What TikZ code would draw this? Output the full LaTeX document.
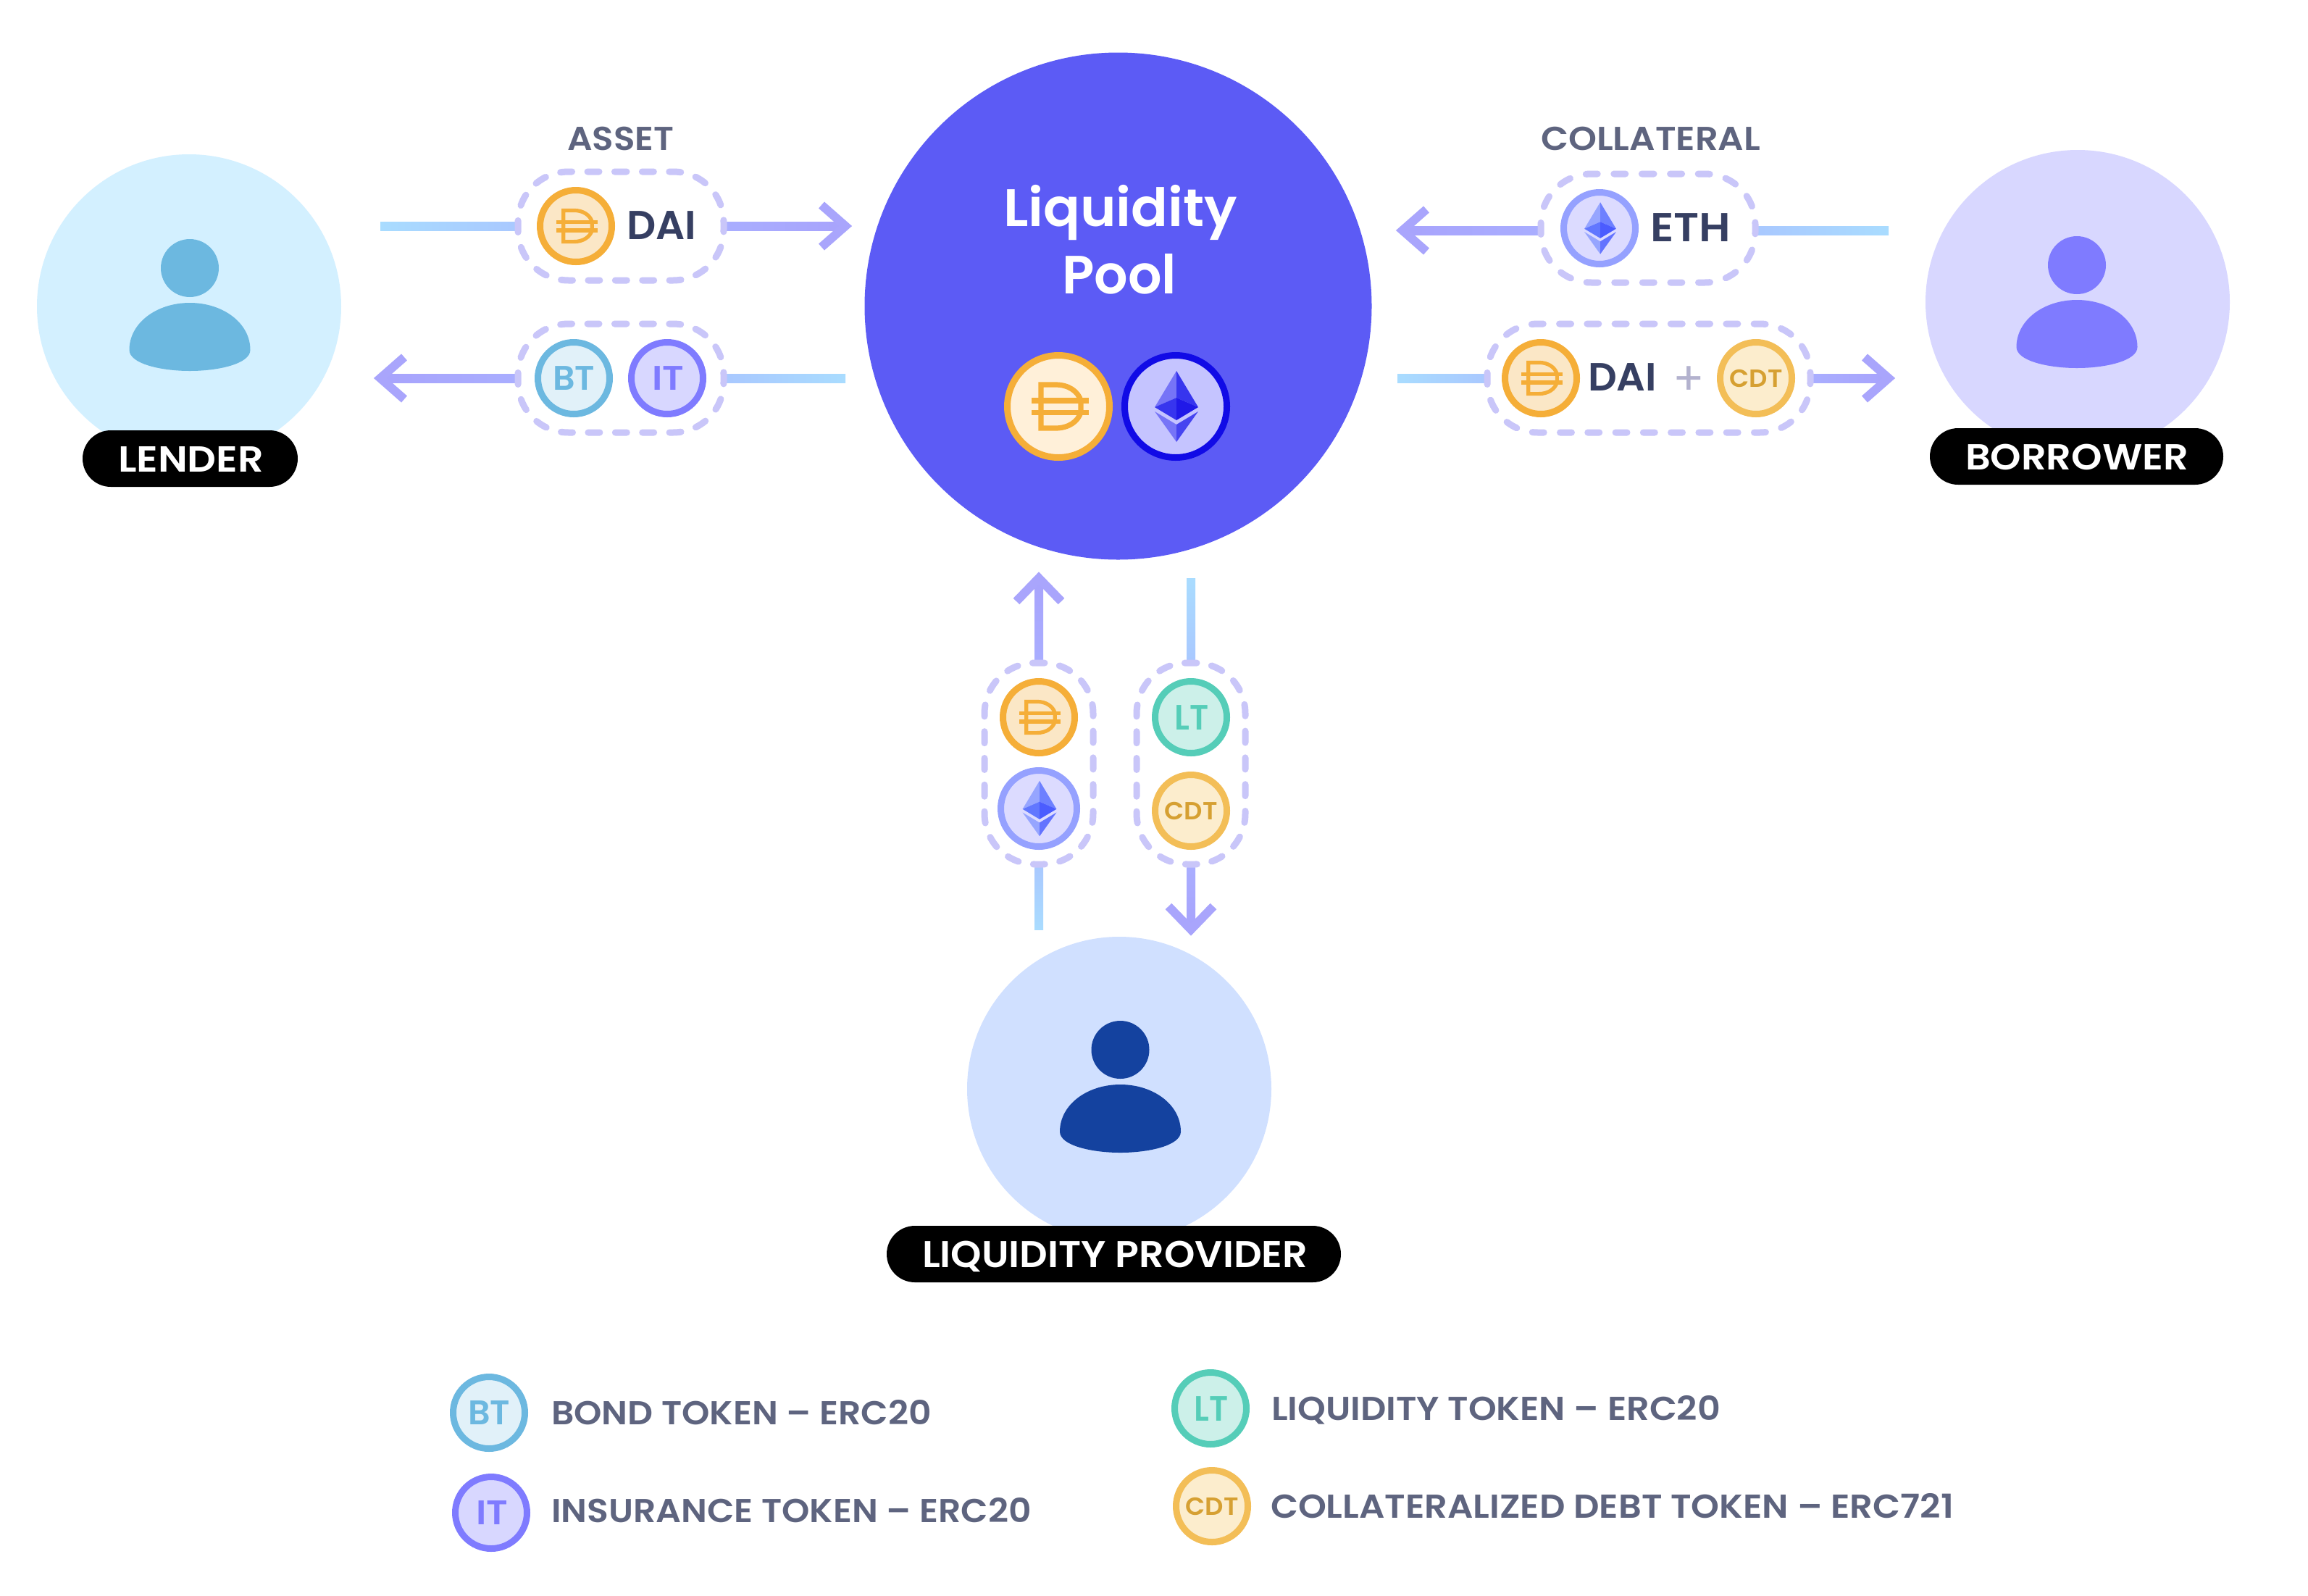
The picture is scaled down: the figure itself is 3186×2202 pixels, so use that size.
\documentclass[tikz,border=0pt]{standalone}
\usepackage{fontspec}
\usepackage{graphicx}
\usetikzlibrary{calc}
\newfontfamily\pops{Poppins SemiBold}
\newfontfamily\popr{Poppins}
\definecolor{poolc}{HTML}{5C5BF5}
\definecolor{lendbg}{HTML}{D3F0FF}
\definecolor{lendfg}{HTML}{6CB8E0}
\definecolor{borrbg}{HTML}{D8D7FF}
\definecolor{borrfg}{HTML}{7F7BFF}
\definecolor{lpbg}{HTML}{D0E0FF}
\definecolor{lpfg}{HTML}{14429F}
\definecolor{greytx}{HTML}{5E647F}
\definecolor{darktx}{HTML}{363F62}
\definecolor{dashc}{HTML}{C9C6F9}
\definecolor{lineA}{HTML}{A9DCFF}
\definecolor{lineB}{HTML}{A9C8FF}
\definecolor{lineC}{HTML}{A9AEFF}
\definecolor{lineD}{HTML}{A8A3FC}
\definecolor{chevc}{HTML}{A9A5FC}
\definecolor{daiR}{HTML}{F5AE38}
\definecolor{daiF}{HTML}{FBE7C6}
\definecolor{daiB}{HTML}{FFF0D9}
\definecolor{btF}{HTML}{E1F1F9}
\definecolor{ltR}{HTML}{55CDB8}
\definecolor{ltF}{HTML}{CCF0E9}
\definecolor{cdtR}{HTML}{F3BE57}
\definecolor{cdtF}{HTML}{FCEDCD}
\definecolor{cdtT}{HTML}{D6A032}
\definecolor{ethR}{HTML}{95A1FF}
\definecolor{ethF}{HTML}{DCDBFF}
\definecolor{ethBR}{HTML}{110BE6}
\definecolor{ethBF}{HTML}{C5C4FF}
\definecolor{plusc}{HTML}{B3B2CE}
\definecolor{bigA}{HTML}{7674F7}
\definecolor{bigB}{HTML}{3735EE}
\definecolor{bigC}{HTML}{3735EE}
\definecolor{bigD}{HTML}{2019E8}
\definecolor{bigE}{HTML}{7674F7}
\definecolor{bigF}{HTML}{4644F0}
\definecolor{smlA}{HTML}{96A5FF}
\definecolor{smlB}{HTML}{6D80FF}
\definecolor{smlC}{HTML}{6177FF}
\definecolor{smlD}{HTML}{4B5CFF}
\definecolor{smlE}{HTML}{96A5FF}
\definecolor{smlF}{HTML}{6373FF}
\tikzset{
  disc/.style={circle,inner sep=0pt,outer sep=0pt,minimum size=#1},
  coinring/.style={circle,draw,line width=4.5pt,inner sep=0pt,outer sep=0pt,minimum size=49.5pt},
  bigcoin/.style={coinring,minimum size=70.5pt},
  pillbox/.style={fill=black,rounded corners=19.5pt,inner sep=0pt,outer sep=0pt},
  boxnode/.style={inner sep=0pt,outer sep=0pt},
  dashedge/.style={draw=dashc,line width=4.5pt,line cap=round},
  chevline/.style={draw=chevc,line width=6pt,miter limit=10,line join=miter},
  txtnode/.style={inner sep=0pt,outer sep=0pt,font=\pops},
  kBT/.style={draw=lendfg,fill=btF},
  kIT/.style={draw=borrfg,fill=borrbg},
  kLT/.style={draw=ltR,fill=ltF},
  kCDT/.style={draw=cdtR,fill=cdtF},
}
\newcommand\fittext[3]{\pgfmathsetmacro\lblfs{#2*0.5/0.7}\pgfmathsetmacro\lblw{#1*0.5}\fontsize{\lblfs pt}{\lblfs pt}\selectfont\resizebox{\lblw pt}{\height}{#3}}
% name, x, baseline, width, cap, colour, text
\newcommand\lab[7]{\node[txtnode,anchor=base west,text=#6] (#1) at (#2,#3) {\fittext{#4}{#5}{#7}};}
\newcommand\tokBT[3]{\node[coinring,kBT] (#1) at (#2,#3) {};\node[txtnode,anchor=base,text=lendfg] (#1t) at ($(#1)+(0,16.5)$) {\fittext{58}{33}{BT}};}
\newcommand\tokIT[3]{\node[coinring,kIT] (#1) at (#2,#3) {};\node[txtnode,anchor=base,text=borrfg] (#1t) at ($(#1)+(1,16.5)$) {\fittext{44}{33}{IT}};}
\newcommand\tokLT[3]{\node[coinring,kLT] (#1) at (#2,#3) {};\node[txtnode,anchor=base,text=ltR] (#1t) at ($(#1)+(1,17)$) {\fittext{47}{34}{LT}};}
\newcommand\tokCDT[3]{\node[coinring,kCDT] (#1) at (#2,#3) {};\node[txtnode,anchor=base,text=cdtT] (#1t) at ($(#1)+(0,12)$) {\fittext{73}{24}{CDT}};}
% D glyph: x y scale
\newcommand\daiglyph[3]{\begin{scope}[shift={(#1,#2)},scale=#3,draw=daiR,line width=3.6pt*#3,miter limit=10]
  \draw (-4,-30) .. controls (14,-30) and (27,-21) .. (31,-8) -- (31,8) .. controls (27,21) and (14,30) .. (-4,30) -- (-24,30) -- (-24,-30) -- cycle;
  \draw (-37,-8) -- (42,-8); \draw (-37,8.2) -- (42,8.2);
\end{scope}}
% ETH glyph: x y scale palette
\newcommand\ethglyph[4]{\begin{scope}[shift={(#1,#2)},scale=#3]
  \fill[#4A] (0,-49) -- (-30,1) -- (0,-12) -- cycle;
  \fill[#4B] (0,-49) -- (30,1) -- (0,-12) -- cycle;
  \fill[#4C] (-30,1) -- (0,-12) -- (0,19) -- cycle;
  \fill[#4D] (30,1) -- (0,-12) -- (0,19) -- cycle;
  \fill[#4E] (-30,7) -- (0,25) -- (0,49) -- cycle;
  \fill[#4F] (30,7) -- (0,25) -- (0,49) -- cycle;
\end{scope}}
\newcommand\daicoin[3]{\node[coinring,draw=daiR,fill=daiF] (#1) at (#2,#3) {};\daiglyph{#2}{#3}{0.72}}
\newcommand\ethcoin[4]{\node[coinring,draw=ethR,fill=ethF,minimum size=#4pt] (#1) at (#2,#3) {};}
% person: name cx bodytop colour
\newcommand\person[4]{\node[disc=40pt,fill=#4] (#1h) at (#2,#3-48) {};
  \begin{scope}[shift={(#2,#3)}]
  \fill[#4] (-83.5,65) .. controls (-83.5,28) and (-46,0) .. (0,0) .. controls (46,0) and (83.5,28) .. (83.5,65) .. controls (83.5,84) and (40,94) .. (0,94) .. controls (-40,94) and (-83.5,84) .. cycle;
  \end{scope}}
% dashed outline round a named box: box, w, h, periods (corner radius 70)
\newcommand\dbox[4]{\pgfmathsetmacro\dbp{(2*(#2-140)+2*(#3-140)+2*pi*70)/#4*0.5}\pgfmathsetmacro\dbo{\dbp-8}
  \pgfmathsetmacro\da{#2/2}\pgfmathsetmacro\db{#3/2}
  \begin{scope}[shift={(#1.center)}]
  \draw[dashedge,dash pattern=on 8pt off \dbo pt,dash phase=4pt]
    (0,-\db) -- (\da-70,-\db) .. controls (\da-31,-\db) and (\da,-\db+31) .. (\da,-\db+70)
    -- (\da,\db-70) .. controls (\da,\db-31) and (\da-31,\db) .. (\da-70,\db)
    -- (-\da+70,\db) .. controls (-\da+31,\db) and (-\da,\db-31) .. (-\da,\db-70)
    -- (-\da,-\db+70) .. controls (-\da,-\db+31) and (-\da+31,-\db) .. (-\da+70,-\db) -- cycle;
  \end{scope}}
% gradient segments
\newcommand\hseg[4]{\shade[left color=#3,right color=#4] ($(#1)+(0,-6)$) rectangle ($(#2 |- #1)+(0,6)$);}
\newcommand\vseg[4]{\shade[top color=#3,bottom color=#4] ($(#1)+(-6,0)$) rectangle ($(#1 |- #2)+(6,0)$);}
\begin{document}
\begin{tikzpicture}[x=0.5pt,y=-0.5pt]
\useasboundingbox (0,0) rectangle (3186,2202);
\fill[white] (0,0) rectangle (3186,2202);
% actors
\node[disc=210pt,fill=lendbg] (lender) at (261,423) {};
\person{lendp}{262}{418}{lendfg}
\node[pillbox,minimum width=148.5pt,minimum height=39pt] (lendpill) at (262.5,633) {};
\lab{lendt}{163}{651}{201}{35}{white}{LENDER}
\node[disc=210pt,fill=borrbg] (borrower) at (2868,417) {};
\person{borrp}{2867}{414}{borrfg}
\node[pillbox,minimum width=202.5pt,minimum height=39pt] (borrpill) at (2866.5,630) {};
\lab{borrt}{2713}{648}{308}{35}{white}{BORROWER}
\node[disc=210pt,fill=lpbg] (lp) at (1545,1503) {};
\person{lpp}{1546.5}{1497}{lpfg}
\node[pillbox,minimum width=313.5pt,minimum height=39pt] (lppill) at (1537.5,1731) {};
\lab{lpt}{1273}{1749}{532}{36}{white}{LIQUIDITY PROVIDER}
% pool
\node[disc=350pt,fill=poolc] (pool) at (1543.5,422.5) {};
\lab{liq}{1385}{312}{323}{51}{white}{Liquidity}
\lab{poolt}{1466}{405}{158}{52}{white}{Pool}
\node[bigcoin,draw=daiR,fill=daiB] (pdai) at (1461,561) {};
\daiglyph{1461}{561}{1}
\node[bigcoin,draw=ethBR,fill=ethBF] (peth) at (1623,561) {};
\ethglyph{1624}{561}{1}{big}
% headings
\lab{asset}{783}{207}{147}{32}{greytx}{ASSET}
\lab{coll}{2127}{207}{303}{32}{greytx}{COLLATERAL}
% free ends
\coordinate (a1s) at (525,312); \coordinate (a1t) at (1167,312);
\coordinate (a2s) at (1167,522); \coordinate (a2t) at (525,522);
\coordinate (a3s) at (2607,318); \coordinate (a3t) at (1936,318);
\coordinate (a4s) at (1929,522); \coordinate (a4t) at (2607,522);
\coordinate (a5s) at (1434,1283); \coordinate (a5t) at (1434,798);
\coordinate (a6s) at (1644,798); \coordinate (a6t) at (1644,1283);
% boxes
\node[boxnode,minimum width=142pt,minimum height=75pt] (b1) at (857,312) {};
\node[boxnode,minimum width=142pt,minimum height=75pt] (b2) at (857,522) {};
\node[boxnode,minimum width=148pt,minimum height=75pt] (b3) at (2275,315) {};
\node[boxnode,minimum width=223pt,minimum height=75pt] (b4) at (2276,522) {};
\node[boxnode,minimum width=75pt,minimum height=139pt] (b5) at (1434,1054) {};
\node[boxnode,minimum width=75pt,minimum height=139pt] (b6) at (1644,1054) {};
% connectors
\hseg{a1s}{b1.west}{lineA}{lineB}
\hseg{b1.east}{a1t}{lineC}{lineD}
\hseg{b2.east}{a2s}{lineB}{lineA}
\hseg{a2t}{b2.west}{lineD}{lineC}
\hseg{b3.east |- a3s}{a3s}{lineB}{lineA}
\hseg{a3t}{b3.west}{lineD}{lineC}
\hseg{a4s}{b4.west}{lineA}{lineB}
\hseg{b4.east}{a4t}{lineC}{lineD}
\vseg{b5.south}{a5s}{lineB}{lineA}
\vseg{a5t}{b5.north}{lineD}{lineC}
\vseg{a6s}{b6.north}{lineA}{lineB}
\vseg{b6.south}{a6t}{lineC}{lineD}
\draw[chevline] ($(a1t)+(-33,-29)$) -- (a1t) -- ($(a1t)+(-33,29)$);
\draw[chevline] ($(a2t)+(33,-29)$) -- (a2t) -- ($(a2t)+(33,29)$);
\draw[chevline] ($(a3t)+(33,-29)$) -- (a3t) -- ($(a3t)+(33,29)$);
\draw[chevline] ($(a4t)+(-33,-29)$) -- (a4t) -- ($(a4t)+(-33,29)$);
\draw[chevline] ($(a5t)+(-31,32)$) -- (a5t) -- ($(a5t)+(31,32)$);
\draw[chevline] ($(a6t)+(-31,-32)$) -- (a6t) -- ($(a6t)+(31,-32)$);
% dashed outlines
\dbox{b1}{284}{150}{20}
\dbox{b2}{284}{150}{20}
\dbox{b3}{296}{150}{20}
\dbox{b4}{446}{150}{28}
\dbox{b5}{150}{278}{20}
\dbox{b6}{150}{278}{20}
% tokens
\daicoin{c1}{795}{312}
\lab{dai1}{865}{330}{96}{39}{darktx}{DAI}
\tokBT{c2}{792}{522}
\tokIT{c3}{921}{522}
\ethcoin{c4}{2208}{315}{49.5}
\ethglyph{2209}{315}{0.73}{sml}
\lab{eth1}{2278}{333}{111}{39}{darktx}{ETH}
\daicoin{c5}{2127}{522}
\lab{dai2}{2192}{539}{95}{38}{darktx}{DAI}
\node[txtnode,font=\popr,text=plusc] (plus) at (2331,526) {\fontsize{32pt}{32pt}\selectfont +};
\tokCDT{c6}{2424}{522}
\daicoin{c7}{1434}{990}
\ethcoin{c8}{1434}{1116}{52.5}
\ethglyph{1435}{1116}{0.78}{sml}
\tokLT{c9}{1644}{990}
\tokCDT{c10}{1644}{1119}
% legend
\tokBT{l1}{675}{1950}
\lab{lt1}{761}{1966}{525}{32}{greytx}{BOND TOKEN – ERC20}
\tokIT{l2}{678}{2088}
\lab{lt2}{761}{2101}{663}{32}{greytx}{INSURANCE TOKEN – ERC20}
\tokLT{l3}{1671}{1944}
\lab{lt3}{1755}{1960}{620}{32}{greytx}{LIQUIDITY TOKEN – ERC20}
\tokCDT{l4}{1673}{2079}
\lab{lt4}{1754}{2095}{943}{32}{greytx}{COLLATERALIZED DEBT TOKEN – ERC721}
\end{tikzpicture}
\end{document}
